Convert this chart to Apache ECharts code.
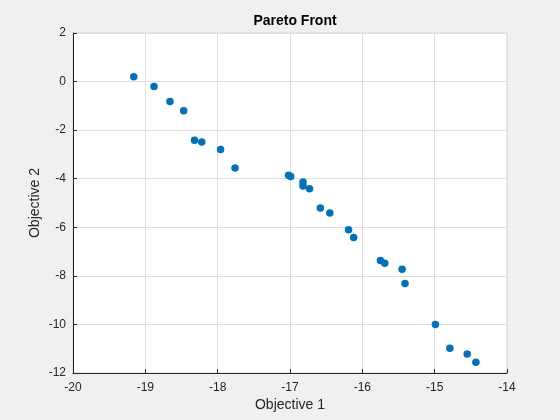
<!DOCTYPE html>
<html>
<head>
<meta charset="utf-8">
<script src="https://cdn.jsdelivr.net/npm/echarts@6/dist/echarts.min.js"></script>
<style>
    html, body { margin: 0; padding: 0; background: #f0f0f0; }
    #paretoChart { width: 560px; height: 420px; }
</style>
</head>
<body>
<div id="paretoChart"></div>
<script>
    // Pareto 前沿上的点
    var objective1 = [-19.16, -18.88, -18.66, -18.47, -18.32, -18.22, -17.96, -17.76,
        -17.02, -16.99, -16.82, -16.82, -16.73, -16.58, -16.45, -16.19, -16.12,
        -15.75, -15.69, -15.45, -15.41, -14.99, -14.79, -14.55, -14.43];
    var objective2 = [0.20, -0.20, -0.82, -1.20, -2.42, -2.49, -2.80, -3.56,
        -3.86, -3.91, -4.14, -4.30, -4.41, -5.21, -5.41, -6.10, -6.42,
        -7.37, -7.48, -7.73, -8.31, -10.0, -10.98, -11.22, -11.56];

    var points = objective1.map(function (x, i) { return [x, objective2[i]]; });

    var axisText = {color: '#262626', fontSize: 12, fontFamily: 'Liberation Sans, Arial'};
    var nameText = {color: '#262626', fontSize: 14, fontFamily: 'Liberation Sans, Arial'};

    var chart = echarts.init(document.getElementById('paretoChart'));
    chart.setOption({
        backgroundColor: '#f0f0f0',
        animation: false,
        title: {
            text: 'Pareto Front',
            left: 290,
            textAlign: 'center',
            top: 9,
            textStyle: {fontSize: 14, fontWeight: 'bold', color: '#000', fontFamily: 'Liberation Sans, Arial'}
        },
        grid: {
            left: 73, right: 53, top: 33, bottom: 47,
            show: true,
            backgroundColor: '#fff',
            borderColor: '#d4d4d4',
            borderWidth: 1
        },
        xAxis: {
            type: 'value',
            min: -20, max: -14, interval: 1,
            name: 'Objective 1',
            nameLocation: 'middle',
            nameGap: 25,
            nameMoveOverlap: false,
            nameTextStyle: nameText,
            axisLine: {show: true, onZero: false, lineStyle: {color: '#262626'}},
            axisTick: {show: true, inside: true, length: 4, lineStyle: {color: '#262626'}},
            axisLabel: Object.assign({margin: 9}, axisText),
            splitLine: {show: true, lineStyle: {color: '#dfdfdf'}}
        },
        yAxis: {
            type: 'value',
            min: -12, max: 2, interval: 2,
            name: 'Objective 2',
            nameLocation: 'middle',
            nameGap: 31,
            nameMoveOverlap: false,
            nameTextStyle: nameText,
            axisLine: {show: true, onZero: false, lineStyle: {color: '#262626'}},
            axisTick: {show: true, inside: true, length: 4, lineStyle: {color: '#262626'}},
            axisLabel: Object.assign({margin: 7}, axisText),
            splitLine: {show: true, lineStyle: {color: '#dfdfdf'}}
        },
        series: [
            {
                type: 'scatter',
                data: points,
                symbolSize: 7.5,
                itemStyle: {color: '#0072bd', opacity: 1}
            }
        ]
    });
</script>
</body>
</html>
